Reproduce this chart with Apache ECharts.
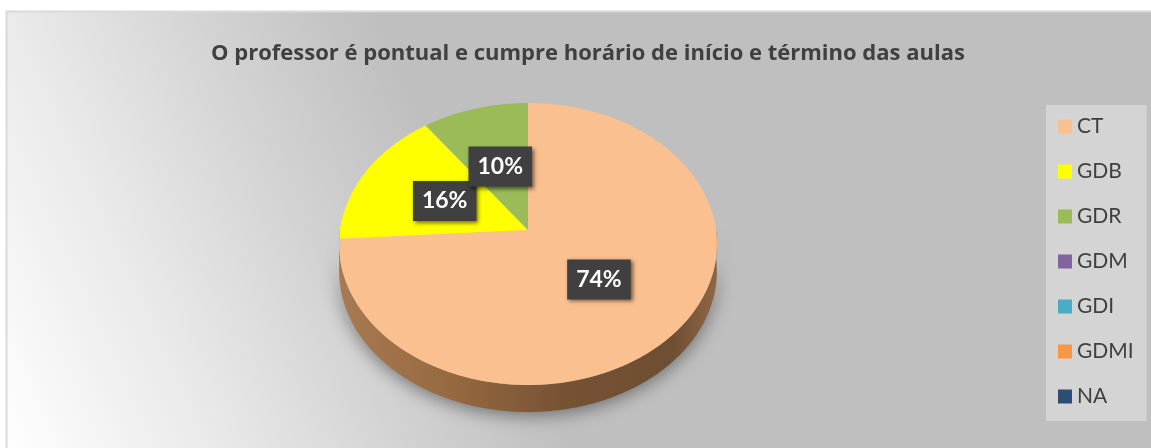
<!DOCTYPE html>
<html>
<head>
<meta charset="utf-8">
<script src="https://cdn.jsdelivr.net/npm/echarts@6/dist/echarts.min.js"></script>
<style>
  html, body { margin: 0; padding: 0; background: #fff; }
  #chart { width: 1151px; height: 448px; }
</style>
</head>
<body>
<div id="chart"></div>
<script>
// chart data
const titleText = 'O professor é pontual e cumpre horário de início e término das aulas';
const categories = ['CT', 'GDB', 'GDR', 'GDM', 'GDI', 'GDMI', 'NA'];
const values = [74, 16, 10, 0, 0, 0, 0];
const colors = ['#FAC090', '#FFFF00', '#9BBB59', '#8064A2', '#4BACC6', '#F79646', '#2C4D75'];
const sideColors = ['#8d6240', '#8c8c00', '#5f7a32', '#4f3d66', '#2d6c7d', '#9c5a25', '#1b2f48'];

// 3d pie geometry (tilted disc seen in perspective)
const cx = 528, cy = 230, rx = 188, ry = 139.6, persp = 0.0993, depth = 27;
const total = values.reduce((a, b) => a + b, 0);

function project(deg, r, dy) {
  const t = deg * Math.PI / 180;
  const s = Math.sin(t), c = Math.cos(t);
  const den = 1 + persp * r * c;
  return [cx + rx * r * s / den, cy - ry * r * c / den + (dy || 0)];
}

function arc(a0, a1, dy) {
  const pts = [];
  const n = Math.max(2, Math.ceil(Math.abs(a1 - a0)));
  for (let k = 0; k <= n; k++) pts.push(project(a0 + (a1 - a0) * k / n, 1, dy));
  return pts;
}

function sliceRender(i) {
  return function (params, api) {
    const v = api.value(0);
    if (!v) return null;
    let before = 0;
    for (let k = 0; k < i; k++) before += values[k];
    const a0 = before / total * 360;
    const a1 = (before + v) / total * 360;
    const children = [];

    // visible side wall (front half only)
    const lo = Math.max(a0, 90), hi = Math.min(a1, 270);
    if (hi > lo) {
      const top = arc(lo, hi, 0);
      const bottom = arc(hi, lo, depth);
      const fill = i === 0
        ? new echarts.graphic.LinearGradient(cx - rx, 0, cx + rx, 0, [
            { offset: 0, color: '#a87a53' },
            { offset: 0.3, color: '#96693f' },
            { offset: 0.6, color: '#765234' },
            { offset: 0.88, color: '#6e4e32' },
            { offset: 1, color: '#8e6645' }
          ], true)
        : sideColors[i];
      children.push({
        type: 'polygon',
        z2: 1,
        shape: { points: top.concat(bottom) },
        style: {
          fill: fill,
          shadowBlur: 18,
          shadowColor: 'rgba(0,0,0,0.45)',
          shadowOffsetY: 3
        }
      });
    }

    // top face
    children.push({
      type: 'polygon',
      z2: 10,
      shape: { points: [[cx, cy]].concat(arc(a0, a1, 0)) },
      style: { fill: colors[i] }
    });

    // data label
    const mid = (a0 + a1) / 2;
    const p = project(mid, 0.5, 0);
    children.push({
      type: 'text',
      z2: 20,
      x: p[0],
      y: p[1],
      style: {
        text: Math.round(v / total * 100) + '%',
        fill: '#ffffff',
        font: 'bold 23px Lato',
        lineHeight: 26,
        align: 'center',
        verticalAlign: 'middle',
        backgroundColor: '#404040',
        padding: [7, 9, 7, 9],
        shadowBlur: 4,
        shadowColor: 'rgba(0,0,0,0.55)',
        shadowOffsetX: 2,
        shadowOffsetY: 2
      }
    });
    return { type: 'group', children: children };
  };
}

const chart = echarts.init(document.getElementById('chart'));

const series = categories.map((name, i) => ({
  type: 'custom',
  name: name,
  coordinateSystem: 'none',
  silent: true,
  itemStyle: { color: colors[i] },
  data: [values[i]],
  renderItem: sliceRender(i)
}));

chart.setOption({
  animation: false,
  graphic: [{
    type: 'rect',
    z: -10,
    shape: { x: 6.5, y: 11.5, width: 1200, height: 500 },
    style: {
      stroke: '#d9d9d9',
      lineWidth: 2,
      fill: new echarts.graphic.LinearGradient(0, 448, 473, 231, [
        { offset: 0, color: '#ffffff' },
        { offset: 0.4, color: '#e8e8e8' },
        { offset: 0.7, color: '#d3d3d3' },
        { offset: 1, color: '#bfbfbf' }
      ], true)
    }
  }],
  title: {
    text: titleText,
    left: 583,
    top: 34,
    textAlign: 'center',
    textStyle: {
      fontFamily: 'Open Sans',
      fontWeight: 'bold',
      fontSize: 22,
      lineHeight: 30,
      color: '#404040'
    }
  },
  legend: {
    orient: 'vertical',
    left: 1046,
    top: 105,
    backgroundColor: '#d4d4d4',
    padding: [11, 13, 14, 12],
    itemWidth: 14,
    itemHeight: 14,
    itemGap: 24,
    icon: 'rect',
    selectedMode: false,
    textStyle: { fontFamily: 'Lato', fontSize: 21, color: '#404040', lineHeight: 20 },
    data: categories
  },
  series: series
});
</script>
</body>
</html>
